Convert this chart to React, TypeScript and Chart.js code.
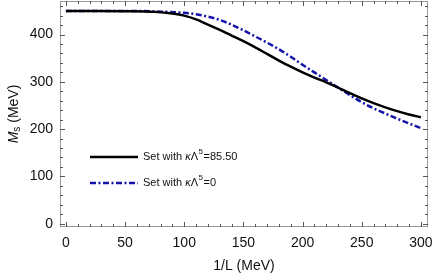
import React, { useEffect, useRef } from "react";
import { Chart, registerables } from "chart.js";

Chart.register(...registerables);

// ---- data ----
const xBlack = [0, 25, 50, 75, 90, 100, 110, 120, 130, 140, 150, 160, 170, 180, 190, 200, 210, 220, 230, 240, 250, 260, 270, 280, 290, 300];
const yBlack = [450, 450, 449.5, 448, 444.5, 440, 432, 421, 410, 398, 386, 373, 359, 345, 332, 320, 309, 299, 288, 276, 265, 255, 246, 238, 231, 225];
const xBlue = [0, 25, 50, 75, 100, 110, 120, 130, 140, 150, 160, 170, 180, 190, 200, 210, 220, 230, 240, 250, 260, 270, 280, 290, 300];
const yBlue = [450, 450, 450, 449, 446, 443, 438, 431, 421, 409, 396, 383, 369, 353, 336, 320, 304, 288, 272, 257, 244, 233, 222, 212, 202];
const xTicks = [0, 50, 100, 150, 200, 250, 300];
const yTicks = [0, 100, 200, 300, 400];
const xMinor = 10;
const yMinor = 20;
const xRange = [-5, 306];
const yRange = [-7, 471];
const seriesLabels = ["85.50", "0"];

const FONT = "'Liberation Sans', Arial, sans-serif";
const BLUE = "#1414aa";

const framePlugin = {
  id: "framePlugin",
  afterDraw(chart: any) {
    const ctx = chart.ctx;
    const { left, right, top, bottom } = chart.chartArea;
    const xs = chart.scales.x;
    const ys = chart.scales.y;
    ctx.save();
    // frame
    ctx.strokeStyle = "#999";
    ctx.lineWidth = 1;
    ctx.strokeRect(left + 0.5, top + 0.5, right - left - 1, bottom - top - 1);
    // ticks
    ctx.strokeStyle = "#555";
    ctx.lineWidth = 1;
    const drawX = (v: number, len: number) => {
      const p = Math.round(xs.getPixelForValue(v)) + 0.5;
      ctx.beginPath();
      ctx.moveTo(p, bottom);
      ctx.lineTo(p, bottom - len);
      ctx.moveTo(p, top);
      ctx.lineTo(p, top + len);
      ctx.stroke();
    };
    const drawY = (v: number, len: number) => {
      const p = Math.round(ys.getPixelForValue(v)) + 0.5;
      ctx.beginPath();
      ctx.moveTo(left, p);
      ctx.lineTo(left + len, p);
      ctx.moveTo(right, p);
      ctx.lineTo(right - len, p);
      ctx.stroke();
    };
    for (let v = xTicks[0]; v <= xTicks[xTicks.length - 1]; v += xMinor) {
      drawX(v, xTicks.includes(v) ? 5 : 3);
    }
    for (let v = 0; v <= yRange[1]; v += yMinor) {
      drawY(v, yTicks.includes(v) ? 5 : 3);
    }
    // x title
    ctx.fillStyle = "#111";
    ctx.font = `14px ${FONT}`;
    ctx.textAlign = "center";
    ctx.textBaseline = "middle";
    ctx.fillText("1/L (MeV)", (left + right) / 2, 266);
    // y title: M_s (MeV)
    ctx.save();
    ctx.translate(14, (top + bottom) / 2);
    ctx.rotate(-Math.PI / 2);
    ctx.textAlign = "left";
    ctx.textBaseline = "middle";
    const partM = "M";
    const partS = "s";
    const partRest = " (MeV)";
    ctx.font = `italic 14px ${FONT}`;
    const wM = ctx.measureText(partM).width;
    ctx.font = `10px ${FONT}`;
    const wS = ctx.measureText(partS).width;
    ctx.font = `14px ${FONT}`;
    const wR = ctx.measureText(partRest).width;
    let x0 = -(wM + wS + wR) / 2;
    ctx.font = `italic 14px ${FONT}`;
    ctx.fillText(partM, x0, 0);
    x0 += wM;
    ctx.font = `10px ${FONT}`;
    ctx.fillText(partS, x0, 3);
    x0 += wS;
    ctx.font = `14px ${FONT}`;
    ctx.fillText(partRest, x0, 0);
    ctx.restore();

    // legend
    const rows = [
      { color: "#000", dash: [] as number[], y: 157, val: seriesLabels[0] },
      { color: BLUE, dash: [6, 2.5, 2, 2.5], y: 183, val: seriesLabels[1] },
    ];
    rows.forEach((r) => {
      ctx.strokeStyle = r.color;
      ctx.lineWidth = 2.5;
      ctx.setLineDash(r.dash);
      ctx.beginPath();
      ctx.moveTo(90, r.y);
      ctx.lineTo(138, r.y);
      ctx.stroke();
      ctx.setLineDash([]);
      ctx.fillStyle = "#111";
      ctx.textAlign = "left";
      ctx.textBaseline = "middle";
      let tx = 143;
      ctx.font = `11px ${FONT}`;
      ctx.fillText("Set with ", tx, r.y);
      tx += ctx.measureText("Set with ").width;
      ctx.font = `italic 11px ${FONT}`;
      ctx.fillText("κ", tx, r.y);
      tx += ctx.measureText("κ").width;
      ctx.font = `11px ${FONT}`;
      ctx.fillText("Λ", tx, r.y);
      tx += ctx.measureText("Λ").width;
      ctx.font = `8px ${FONT}`;
      ctx.fillText("5", tx + 0.5, r.y - 5);
      tx += ctx.measureText("5").width + 1;
      ctx.font = `11px ${FONT}`;
      ctx.fillText("=" + r.val, tx, r.y);
    });
    ctx.restore();
  },
};

export default function App() {
  const ref = useRef<HTMLCanvasElement | null>(null);
  useEffect(() => {
    if (!ref.current) return;
    const chart = new Chart(ref.current, {
      type: "line",
      data: {
        datasets: [
          {
            label: "Set with κΛ5=85.50",
            data: xBlack.map((x, i) => ({ x, y: yBlack[i] })),
            borderColor: "#000",
            borderWidth: 2.5,
            pointRadius: 0,
            cubicInterpolationMode: "monotone",
            fill: false,
          },
          {
            label: "Set with κΛ5=0",
            data: xBlue.map((x, i) => ({ x, y: yBlue[i] })),
            borderColor: BLUE,
            borderWidth: 2.5,
            borderDash: [6, 2.5, 2, 2.5],
            pointRadius: 0,
            cubicInterpolationMode: "monotone",
            fill: false,
          },
        ],
      },
      options: {
        responsive: false,
        animation: false,
        layout: { padding: { top: 1, right: 8, left: 0, bottom: 0 } },
        plugins: { legend: { display: false }, tooltip: { enabled: false } },
        scales: {
          x: {
            type: "linear",
            min: xRange[0],
            max: xRange[1],
            grid: { display: false, drawTicks: false },
            border: { display: false },
            afterBuildTicks: (s: any) => {
              s.ticks = xTicks.map((v) => ({ value: v }));
            },
            afterFit: (s: any) => {
              s.height = 51;
              s.paddingLeft = 0;
              s.paddingRight = 0;
            },
            ticks: {
              padding: 8,
              maxRotation: 0,
              autoSkip: false,
              color: "#111",
              font: { family: FONT, size: 14 },
            },
          },
          y: {
            type: "linear",
            min: yRange[0],
            max: yRange[1],
            grid: { display: false, drawTicks: false },
            border: { display: false },
            afterBuildTicks: (s: any) => {
              s.ticks = yTicks.map((v) => ({ value: v }));
            },
            afterFit: (s: any) => {
              s.width = 60;
              s.paddingTop = 0;
              s.paddingBottom = 0;
            },
            ticks: {
              padding: 7,
              autoSkip: false,
              color: "#111",
              font: { family: FONT, size: 14 },
            },
          },
        },
      },
      plugins: [framePlugin],
    } as any);
    return () => chart.destroy();
  }, []);
  return (
    <div style={{ position: "fixed", left: 0, top: 0, width: 436, height: 278, background: "#fff" }}>
      <canvas ref={ref} width={436} height={278} style={{ display: "block" }} />
    </div>
  );
}
